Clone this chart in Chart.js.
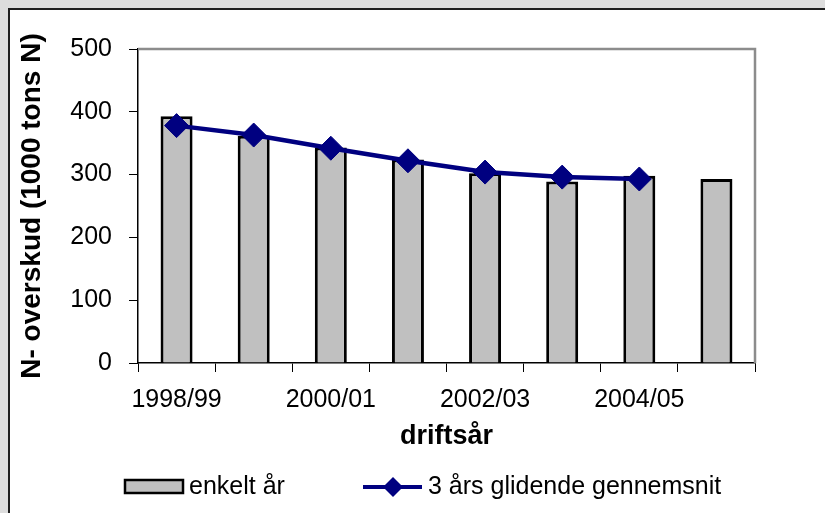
<!DOCTYPE html>
<html>
<head>
<meta charset="utf-8">
<script src="https://cdn.jsdelivr.net/npm/chart.js@4.4.1/dist/chart.umd.min.js"></script>
<style>
  html, body { margin: 0; padding: 0; background: #dddddd; }
  canvas { display: block; }
</style>
</head>
<body>
<canvas id="chart" width="825" height="513"></canvas>
<script>
// values
const seasons = ['1998/99', '1999/00', '2000/01', '2001/02', '2002/03', '2003/04', '2004/05', '2005/06']
const singleYear = [393, 362, 343, 324, 302, 289, 298, 293]
const movingAvg = [378, 363, 342, 322, 304, 296, 293, null]
const yTicks = [0, 100, 200, 300, 400, 500]

const FONT = '"Liberation Sans", Arial, sans-serif'
const NAVY = '#000080'

// white panel with dark edge on the grey page, and grey top/right frame of the plot
const frame = {
  id: 'frame',
  beforeDraw(chart) {
    const ctx = chart.ctx
    ctx.save()
    ctx.fillStyle = '#dddddd'
    ctx.fillRect(0, 0, chart.width, chart.height)
    ctx.fillStyle = '#ffffff'
    ctx.fillRect(8, 8, chart.width, chart.height)
    ctx.strokeStyle = '#1e1e1e'
    ctx.lineWidth = 2
    ctx.beginPath()
    ctx.moveTo(9, chart.height)
    ctx.lineTo(9, 9)
    ctx.lineTo(chart.width, 9)
    ctx.stroke()
    ctx.restore()
  },
  afterDatasetsDraw(chart) {
    const { ctx, chartArea: a } = chart
    ctx.save()
    ctx.strokeStyle = '#8c8c8c'
    ctx.lineWidth = 2.5
    ctx.beginPath()
    ctx.moveTo(a.left, a.top)
    ctx.lineTo(a.right, a.top)
    ctx.lineTo(a.right, a.bottom)
    ctx.stroke()
    ctx.restore()
  }
}

// legend drawn in one row under the axis title
const legendRow = {
  id: 'legendRow',
  afterDraw(chart) {
    const ctx = chart.ctx
    const ds = chart.data.datasets
    const barDs = ds.find(d => d.type !== 'line')
    const lineDs = ds.find(d => d.type === 'line')
    const y = 487
    ctx.save()
    ctx.font = '25px ' + FONT
    ctx.textBaseline = 'middle'

    ctx.fillStyle = barDs.backgroundColor
    ctx.fillRect(125, 480, 58, 13)
    ctx.strokeStyle = '#000'
    ctx.lineWidth = 2.5
    ctx.strokeRect(125, 480, 58, 13)
    ctx.fillStyle = '#000'
    ctx.fillText(barDs.label, 189, y)

    ctx.strokeStyle = NAVY
    ctx.lineWidth = 4
    ctx.beginPath()
    ctx.moveTo(363, y)
    ctx.lineTo(422, y)
    ctx.stroke()
    ctx.fillStyle = NAVY
    ctx.beginPath()
    ctx.moveTo(393, y - 10)
    ctx.lineTo(403, y)
    ctx.lineTo(393, y + 10)
    ctx.lineTo(383, y)
    ctx.closePath()
    ctx.fill()
    ctx.fillStyle = '#000'
    ctx.fillText(lineDs.label, 428, y)
    ctx.restore()
  }
}

const ctx = document.getElementById('chart')
window.myChart = new Chart(ctx, {
  type: 'bar',
  data: {
    labels: seasons,
    datasets: [
      {
        type: 'line',
        label: '3 års glidende gennemsnit',
        data: movingAvg,
        borderColor: NAVY,
        backgroundColor: NAVY,
        borderWidth: 4.5,
        pointStyle: 'rectRot',
        pointRadius: 12,
        pointBorderWidth: 1,
        tension: 0,
        order: 0
      },
      {
        label: 'enkelt år',
        data: singleYear,
        backgroundColor: '#c0c0c0',
        borderColor: '#000',
        borderWidth: 3,
        barPercentage: 0.415,
        categoryPercentage: 1,
        order: 1
      }
    ]
  },
  options: {
    responsive: false,
    animation: false,
    devicePixelRatio: 1,
    layout: { padding: { left: 0, top: 49, right: 70, bottom: 55 } },
    plugins: {
      legend: { display: false },
      tooltip: { enabled: false }
    },
    scales: {
      x: {
        grid: { offset: true, drawOnChartArea: false, drawTicks: true, tickLength: 9, color: '#000' },
        border: { color: '#000', width: 1.5 },
        ticks: {
          autoSkip: false,
          maxRotation: 0,
          padding: 13,
          color: '#000',
          font: { family: FONT, size: 25 },
          callback: (v, i) => (i % 2 === 0 ? seasons[i] : '')
        },
        title: {
          display: true,
          text: 'driftsår',
          color: '#000',
          font: { family: FONT, size: 27, weight: 'bold' },
          padding: { top: 0, bottom: 5 }
        },
        afterFit: (scale) => { scale.height = 95 }
      },
      y: {
        min: 0,
        max: 500,
        afterBuildTicks: (scale) => { scale.ticks = yTicks.map(v => ({ value: v })) },
        grid: { drawOnChartArea: false, drawTicks: true, tickLength: 9, color: '#000' },
        border: { color: '#000', width: 1.5 },
        ticks: {
          padding: 17,
          color: '#000',
          font: { family: FONT, size: 25 }
        },
        title: {
          display: true,
          text: 'N- overskud (1000 tons N)',
          color: '#000',
          font: { family: FONT, size: 28, weight: 'bold' },
          padding: { top: 15, bottom: 0 }
        },
        afterFit: (scale) => { scale.width = 138 }
      }
    }
  },
  plugins: [frame, legendRow]
})
</script>
</body>
</html>
